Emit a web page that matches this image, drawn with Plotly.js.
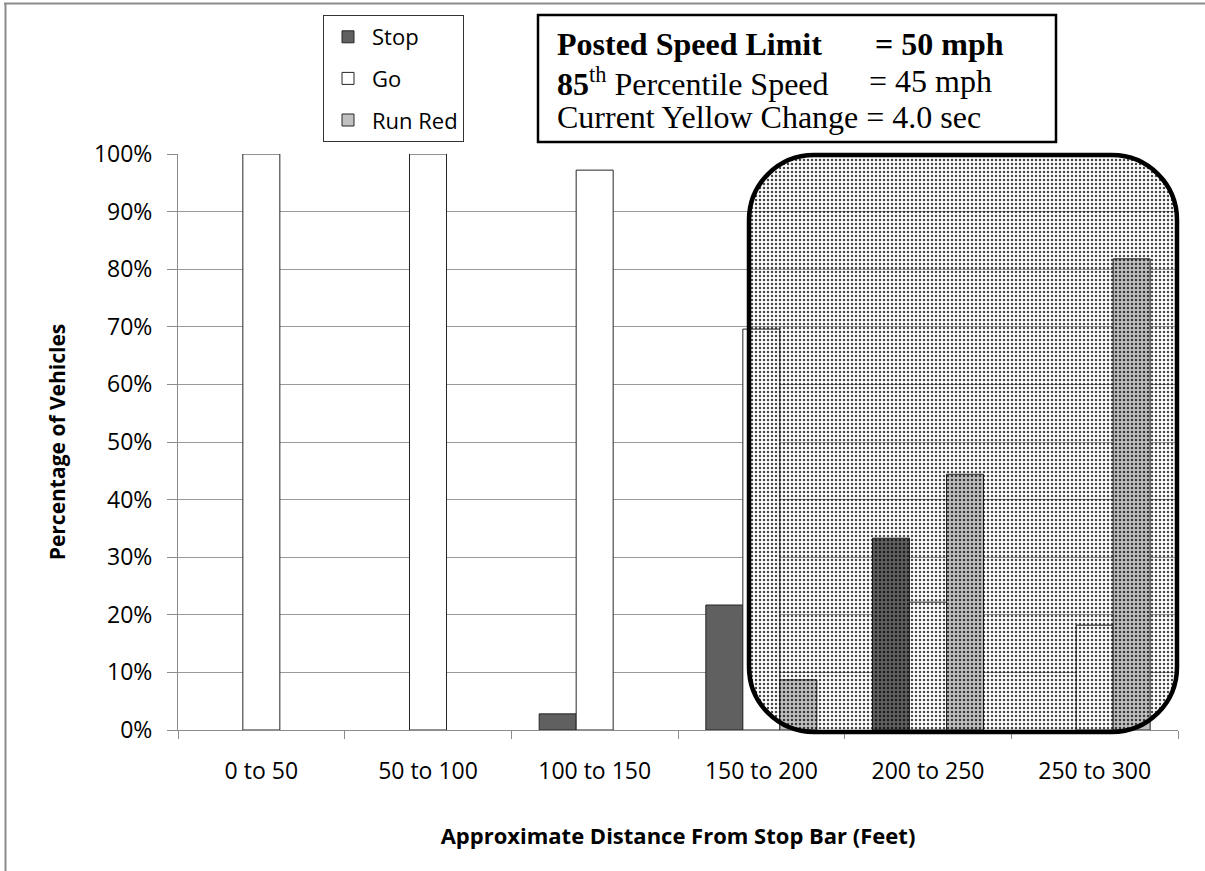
<!DOCTYPE html>
<html>
<head>
<meta charset="utf-8">
<script src="https://cdn.plot.ly/plotly-3.0.1.min.js"></script>
<style>html,body{margin:0;padding:0;background:#fff;}#chart{width:1205px;height:871px;}</style>
</head>
<body>
<div id="chart"></div>
<script>
// ---- data ----
var categories = ['0 to 50', '50 to 100', '100 to 150', '150 to 200', '200 to 250', '250 to 300'];
var stopVals   = [0, 0, 0.028, 0.217, 0.333, 0];
var goVals     = [1.0, 1.0, 0.972, 0.696, 0.222, 0.182];
var runRedVals = [0, 0, 0, 0.087, 0.444, 0.818];
var seriesNames = ['Stop', 'Go', 'Run Red'];
var yTickVals = [0, 0.1, 0.2, 0.3, 0.4, 0.5, 0.6, 0.7, 0.8, 0.9, 1.0];

// ---- layout geometry (pixels) ----
var W = 1205, H = 871;
var M = {l: 178, r: 27, t: 154, b: 141};
var plotW = W - M.l - M.r, plotH = H - M.t - M.b;
function px2x(px) { return (px - M.l) / plotW; }
function px2y(py) { return (H - M.b - py) / plotH; }

var sans = 'Open Sans, Noto Sans, sans-serif';
var serif = 'Liberation Serif, Times New Roman, serif';

// build a bar trace; non-zero points are listed first so the legend swatch keeps its border,
// zero-height bars get no outline (category order is fixed on the axis)
function barTrace(name, vals, color, group) {
  var idx = [];
  vals.forEach(function (v, i) { if (v > 0) idx.push(i); });
  vals.forEach(function (v, i) { if (!(v > 0)) idx.push(i); });
  return {
    type: 'bar', name: name, legendgroup: group,
    x: idx.map(function (i) { return categories[i]; }),
    y: idx.map(function (i) { return vals[i]; }),
    marker: {color: color, line: {color: '#262626',
             width: idx.map(function (i) { return vals[i] > 0 ? 1 : 0; })}}
  };
}

// rounded highlight box geometry (pixels)
var L = 749, R = 1177, T = 155, B = 732, r = 65, k = 0.5523;

// polygon outline of the rounded box (for the stipple fill), in paper fractions
var polyX = [], polyY = [];
function arc(cx, cy, a0, a1) {
  for (var i = 0; i <= 12; i++) {
    var a = a0 + (a1 - a0) * i / 12;
    polyX.push(px2x(cx + r * Math.cos(a)));
    polyY.push(px2y(cy + r * Math.sin(a)));
  }
}
arc(R - r, T + r, -Math.PI / 2, 0);
arc(R - r, B - r, 0, Math.PI / 2);
arc(L + r, B - r, Math.PI / 2, Math.PI);
arc(L + r, T + r, Math.PI, 1.5 * Math.PI);
polyX.push(polyX[0]); polyY.push(polyY[0]);

var traces = [
  barTrace(seriesNames[0], stopVals, '#606060', 'a'),
  barTrace(seriesNames[1], goVals, '#ffffff', 'b'),
  barTrace(seriesNames[2], runRedVals, '#c0c0c0', 'c'),
  {type: 'scatter', mode: 'lines', x: polyX, y: polyY, xaxis: 'x2', yaxis: 'y2',
   fill: 'toself', fillcolor: 'rgba(0,0,0,0)',
   fillpattern: {shape: '.', size: 4, solidity: 0.3, fgcolor: '#000000', fgopacity: 0.72,
                 bgcolor: 'rgba(0,0,0,0)'},
   line: {width: 0, color: 'rgba(0,0,0,0)'}, showlegend: false, hoverinfo: 'skip'}
];

function P(px, py) { return px2x(px).toFixed(5) + ',' + px2y(py).toFixed(5); }
var roundPath =
  'M' + P(L + r, T) +
  ' L' + P(R - r, T) +
  ' C' + P(R - r + k * r, T) + ' ' + P(R, T + r - k * r) + ' ' + P(R, T + r) +
  ' L' + P(R, B - r) +
  ' C' + P(R, B - r + k * r) + ' ' + P(R - r + k * r, B) + ' ' + P(R - r, B) +
  ' L' + P(L + r, B) +
  ' C' + P(L + r - k * r, B) + ' ' + P(L, B - r + k * r) + ' ' + P(L, B - r) +
  ' L' + P(L, T + r) +
  ' C' + P(L, T + r - k * r) + ' ' + P(L + r - k * r, T) + ' ' + P(L + r, T) + ' Z';

var shapes = [
  // outer frame (top and left)
  {type: 'line', xref: 'paper', yref: 'paper', x0: px2x(4), x1: px2x(1206), y0: px2y(3.5), y1: px2y(3.5),
   line: {color: '#8c8c8c', width: 2}},
  {type: 'line', xref: 'paper', yref: 'paper', x0: px2x(5.5), x1: px2x(5.5), y0: px2y(3), y1: px2y(872),
   line: {color: '#8c8c8c', width: 2}},
  // info text box
  {type: 'rect', xref: 'paper', yref: 'paper', x0: px2x(538), x1: px2x(1056), y0: px2y(142), y1: px2y(15),
   line: {color: '#000', width: 2.5}, fillcolor: '#ffffff', layer: 'above'},
  // highlight outline
  {type: 'path', xref: 'paper', yref: 'paper', path: roundPath,
   fillcolor: 'rgba(0,0,0,0)', line: {color: '#000', width: 4.5}, layer: 'above'}
];

var tf = {family: serif, size: 32, color: '#000'};
function ann(text, px, py, xa) {
  return {xref: 'paper', yref: 'paper', x: px2x(px), y: px2y(py), xanchor: xa || 'left', yanchor: 'middle',
          text: text, showarrow: false, font: tf, align: 'left'};
}
var annotations = [
  ann('<b>Posted Speed Limit</b>', 555, 44),
  ann('<b>= 50 mph</b>', 873, 44),
  ann('<b>85</b><sup>th</sup> Percentile Speed', 555, 82),
  ann('= 45 mph', 867, 81),
  ann('Current Yellow Change = 4.0 sec', 555, 117)
];

var layout = {
  width: W, height: H,
  margin: M,
  paper_bgcolor: '#ffffff', plot_bgcolor: '#ffffff',
  barmode: 'group', bargap: 0.334, bargroupgap: 0,
  showlegend: true,
  legend: {x: px2x(323), y: px2y(15), xanchor: 'left', yanchor: 'top',
           bordercolor: '#333', borderwidth: 1, bgcolor: '#ffffff',
           font: {family: sans, size: 22, color: '#000'}, itemwidth: 38,
           entrywidthmode: 'pixels', entrywidth: 145,
           traceorder: 'grouped', tracegroupgap: 10},
  xaxis: {type: 'category', categoryorder: 'array', categoryarray: categories,
          tickson: 'boundaries', ticks: 'outside', ticklen: 8, tickcolor: '#8c8c8c',
          showline: true, linecolor: '#8c8c8c', linewidth: 1, showgrid: false,
          tickfont: {family: sans, size: 23, color: '#000'}, ticklabelstandoff: 20,
          title: {text: 'Approximate Distance From Stop Bar (Feet)', standoff: 44,
                  font: {family: sans, size: 22, color: '#000', weight: 'bold'}},
          fixedrange: true},
  yaxis: {range: [0, 1], tickvals: yTickVals, tickformat: '.0%', ticks: 'outside', ticklen: 10,
          tickcolor: '#8c8c8c', showline: true, linecolor: '#8c8c8c', linewidth: 1,
          showgrid: true, gridcolor: '#999999', gridwidth: 1, zeroline: false,
          tickfont: {family: sans, size: 23, color: '#000'}, ticklabelstandoff: 10,
          title: {text: 'Percentage of Vehicles', standoff: 22,
                  font: {family: sans, size: 21, color: '#000', weight: 'bold'}},
          fixedrange: true},
  xaxis2: {overlaying: 'x', range: [0, 1], visible: false, fixedrange: true},
  yaxis2: {overlaying: 'y', range: [0, 1], visible: false, fixedrange: true},
  shapes: shapes,
  annotations: annotations
};

Plotly.newPlot('chart', traces, layout, {displayModeBar: false, staticPlot: true});
</script>
</body>
</html>
